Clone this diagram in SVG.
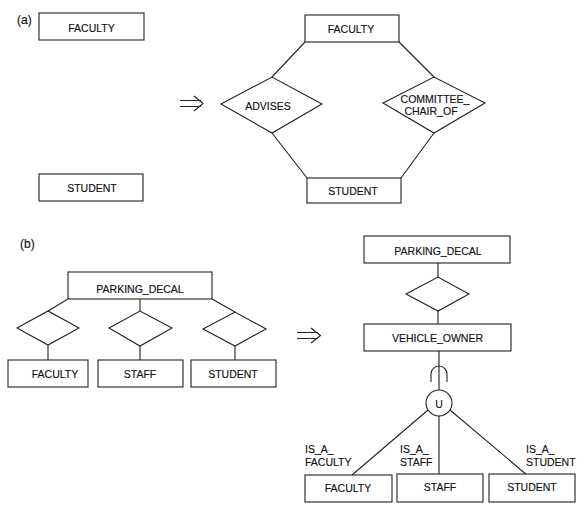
<svg xmlns="http://www.w3.org/2000/svg" width="584" height="511" viewBox="0 0 584 511">
<style>
.b{fill:#fff;stroke:#222;stroke-width:1.1}
.l{fill:none;stroke:#222;stroke-width:1.1}
text{font-family:"Liberation Sans",Arial,sans-serif;font-size:10.5px;fill:#111;stroke:#111;stroke-width:0.15}
.c{text-anchor:middle}
.p{font-size:12px}
</style>
<rect width="584" height="511" fill="#fff"/>
<text class="p" x="17" y="24">(a)</text>
<text class="p" x="20" y="248">(b)</text>
<g id="connectors">
<path class="l" d="M305 42 L272 77 M399 42 L434 77 M272 133 L307 178 M434 133 L401 178"/>
<path class="l" d="M68 299 L48 311 M140 299 L140 311 M212 299 L235 312 M48 345 L48 360 M140 346 L140 360 M235 346 L235 360"/>
<path class="l" d="M438 263 L438 277 M438 311 L438 324 M439 351 L439 390"/>
<path class="l" d="M431 382 L431 374 A8 8 0 0 1 447 374 L447 382"/>
<path class="l" d="M428 410 L352 475 M439 416 L439 475 M450 410 L527 475"/>
<path class="l" d="M180 100.5 L201 100.5 M180 106.5 L201 106.5 M194 96 L203 103.5 L194 111"/>
<path class="l" d="M297 332.5 L318 332.5 M297 338.5 L318 338.5 M311 328 L320.5 335.5 L311 343"/>
</g>
<g id="a_faculty_left"><rect class="b" x="39" y="13" width="105" height="27"/><text class="c" x="91.5" y="31.5">FACULTY</text></g>
<g id="a_student_left"><rect class="b" x="39" y="174" width="104" height="27"/><text class="c" x="92" y="192">STUDENT</text></g>
<g id="a_faculty"><rect class="b" x="305" y="15" width="94" height="27"/><text class="c" x="351" y="33">FACULTY</text></g>
<g id="a_advises"><polygon class="b" points="221,104 272,77 322,104 272,133"/><text class="c" x="268" y="110">ADVISES</text></g>
<g id="a_committee"><polygon class="b" points="383,103 434,77 485,103 434,133"/><text class="c" x="435" y="103">COMMITTEE_</text><text class="c" x="431" y="115">CHAIR_OF</text></g>
<g id="a_student"><rect class="b" x="307" y="178" width="94" height="25"/><text class="c" x="353" y="195">STUDENT</text></g>
<g id="b_parking_left"><rect class="b" x="68" y="272" width="144" height="27"/><text class="c" x="140" y="292.5">PARKING_DECAL</text></g>
<g id="b_rel1"><polygon class="b" points="17,328 48,311 79,328 48,345"/></g>
<g id="b_rel2"><polygon class="b" points="109,328 140,311 172,328 140,346"/></g>
<g id="b_rel3"><polygon class="b" points="203,329 235,312 266,329 235,346"/></g>
<g id="b_faculty_left"><rect class="b" x="8" y="360" width="80" height="27"/><text class="c" x="55" y="378">FACULTY</text></g>
<g id="b_staff_left"><rect class="b" x="98" y="360" width="85" height="27"/><text class="c" x="140" y="378">STAFF</text></g>
<g id="b_student_left"><rect class="b" x="191" y="360" width="85" height="27"/><text class="c" x="233" y="378">STUDENT</text></g>
<g id="b_parking"><rect class="b" x="364" y="236" width="146" height="27"/><text class="c" x="438" y="255">PARKING_DECAL</text></g>
<g id="b_rel"><polygon class="b" points="406,294 438,277 469,294 438,311"/></g>
<g id="b_vehicle_owner"><rect class="b" x="364" y="324" width="147" height="27"/><text class="c" x="437.5" y="342">VEHICLE_OWNER</text></g>
<g id="b_union"><circle class="b" cx="439" cy="403" r="13"/><text class="c" x="439" y="407.5">U</text></g>
<g id="b_faculty"><rect class="b" x="305" y="475" width="87" height="27"/><text class="c" x="348" y="492">FACULTY</text></g>
<g id="b_staff"><rect class="b" x="397" y="474" width="86" height="28"/><text class="c" x="440" y="491">STAFF</text></g>
<g id="b_student"><rect class="b" x="489" y="474" width="86" height="28"/><text class="c" x="532" y="491">STUDENT</text></g>
<g id="labels">
<text x="305" y="452.5">IS_A_</text><text x="305" y="465.5">FACULTY</text>
<text x="400" y="452.5">IS_A_</text><text x="400" y="465.5">STAFF</text>
<text x="526" y="452.5">IS_A_</text><text x="526" y="465.5">STUDENT</text>
</g>
</svg>
